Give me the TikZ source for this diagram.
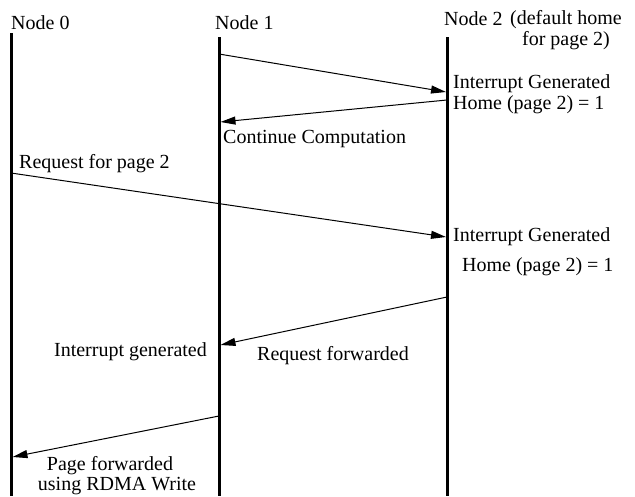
\documentclass[tikz,border=0pt]{standalone}
\usepackage{fontspec}
\setmainfont{Liberation Serif}
\usetikzlibrary{arrows.meta, positioning}
\tikzstyle{lifeline} = [line width=3pt]
\tikzstyle{msg} = [line width=1pt, -{Triangle[length=15pt, width=8pt]}]
\tikzstyle{txt} = [inner sep=0pt, font=\fontsize{20}{21}\selectfont]

\begin{document}
\begin{tikzpicture}[x=1pt, y=-1pt]
\useasboundingbox (0,0) rectangle (635,496);

% Headers
\node (h0) [txt, anchor=base west] at (11,29) {Node 0};
\node (h1) [txt, anchor=base west] at (215,29) {Node 1};
\node (h2) [txt, anchor=base west] at (444,25) {Node 2};
\node (h2note) [txt, anchor=north, align=center] at (566,10) {(default home\\for page 2)};

% Lifelines
\coordinate (n0t) at (11,33);   \coordinate (n0b) at (11,496);
\coordinate (n1t) at (219,37);  \coordinate (n1b) at (219,496);
\coordinate (n2t) at (447.5,37); \coordinate (n2b) at (447.5,496);
\draw [lifeline] (n0t) -- (n0b);
\draw [lifeline] (n1t) -- (n1b);
\draw [lifeline] (n2t) -- (n2b);

% Message end points
\coordinate (m1a) at (219,54);  \coordinate (m1b) at (446,92);
\coordinate (m2a) at (447,100); \coordinate (m2b) at (220.5,122);
\coordinate (m3a) at (11,173);  \coordinate (m3b) at (446,237);
\coordinate (m4a) at (447,297); \coordinate (m4b) at (220.5,345);
\coordinate (m5a) at (219,416); \coordinate (m5b) at (12.5,457);

% Messages
\draw [msg] (m1a) -- (m1b);
\draw [msg] (m2a) -- (m2b);
\draw [msg] (m3a) -- (m3b);
\draw [msg] (m4a) -- (m4b);
\draw [msg] (m5a) -- (m5b);

% Labels
\node (int1) [txt, anchor=base west] at (453,88) {Interrupt Generated};
\node (home1) [txt, anchor=base west] at (453,109) {Home (page 2) = 1};
\node (cont) [txt, anchor=base west] at (223,143) {Continue Computation};
\node (req) [txt, anchor=base west] at (19,168) {Request for page 2};
\node (int2) [txt, anchor=base west] at (453,241) {Interrupt Generated};
\node (home2) [txt, anchor=base west] at (462,271) {Home (page 2) = 1};
\node (int3) [txt, anchor=base east] at (207,356) {Interrupt generated};
\node (fwd) [txt, anchor=base west] at (257,360) {Request forwarded};
\node (page) [txt, anchor=base] at (110,470) {Page forwarded};
\node (rdma) [txt, anchor=base] at (117,490) {using RDMA Write};

\end{tikzpicture}
\end{document}
